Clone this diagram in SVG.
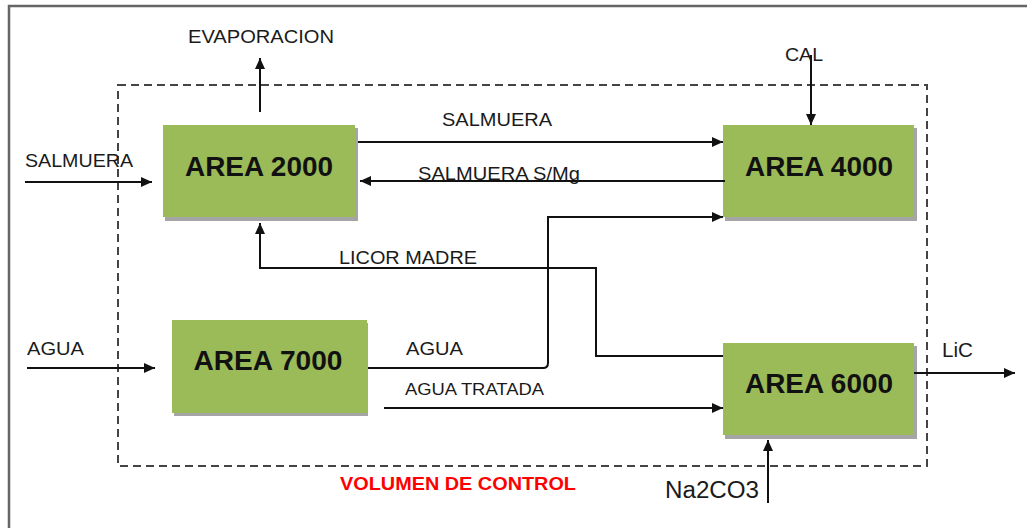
<svg xmlns="http://www.w3.org/2000/svg" width="1027" height="528" viewBox="0 0 1027 528">
<style>
.lbl{font-family:"Liberation Sans",Arial,sans-serif;font-size:19px;fill:#1a1a1a}
.ttl{font-family:"Liberation Sans",Arial,sans-serif;font-size:27px;font-weight:bold;fill:#111;text-anchor:middle}
.box{fill:#9BBB59}
.shd{fill:#a5a5a5}
.ln{fill:none;stroke:#111;stroke-width:2}
.arr{fill:none;stroke:#111;stroke-width:2;marker-end:url(#ah)}
</style>
<defs>
<marker id="ah" markerUnits="userSpaceOnUse" markerWidth="12" markerHeight="10" refX="11" refY="5" orient="auto">
<path d="M0,0 L11,5 L0,10 z" fill="#111"/>
</marker>
</defs>
<rect width="1027" height="528" fill="#fff"/>
<g id="frame">
<path d="M9,528 V6 H1027" fill="none" stroke="#666" stroke-width="2.5"/>
</g>
<g id="control-volume">
<rect x="118" y="85" width="809" height="381" fill="none" stroke="#444" stroke-width="2" stroke-dasharray="8,5"/>
<text x="340" y="490" class="lbl" style="fill:#ff0000;font-weight:bold" textLength="236" lengthAdjust="spacingAndGlyphs">VOLUMEN DE CONTROL</text>
</g>
<g id="area2000">
<rect class="shd" x="165" y="128" width="193" height="93"/>
<rect class="box" x="163" y="125" width="192" height="92"/>
<text x="259" y="176" class="ttl" textLength="148" lengthAdjust="spacingAndGlyphs">AREA 2000</text>
</g>
<g id="area4000">
<rect class="shd" x="725" y="128" width="192" height="93"/>
<rect class="box" x="723" y="125" width="191" height="92"/>
<text x="819" y="176" class="ttl" textLength="148" lengthAdjust="spacingAndGlyphs">AREA 4000</text>
</g>
<g id="area7000">
<rect class="shd" x="174" y="323" width="194" height="93"/>
<rect class="box" x="172" y="320" width="195" height="93"/>
<text x="268" y="370" class="ttl" textLength="149" lengthAdjust="spacingAndGlyphs">AREA 7000</text>
</g>
<g id="area6000">
<rect class="shd" x="725" y="346" width="192" height="93"/>
<rect class="box" x="723" y="343" width="191" height="92"/>
<text x="819" y="393" class="ttl" textLength="148" lengthAdjust="spacingAndGlyphs">AREA 6000</text>
</g>
<g id="connectors">
<path class="arr" d="M260,112 V58"/>
<path class="arr" d="M25,182 H152"/>
<path class="arr" d="M358,142 H723"/>
<path class="arr" d="M725,181 H360"/>
<path class="arr" d="M811,55 V125"/>
<path class="arr" d="M368,368 H543 Q548,368 548,363 V217 H723"/>
<path class="arr" d="M723,356 H596 V268 H260 V223"/>
<path class="arr" d="M384,408 H723"/>
<path class="arr" d="M27,368 H155"/>
<path class="arr" d="M914,373 H1015"/>
<path class="arr" d="M768,503 V440"/>
</g>
<g id="labels">
<text x="188" y="43" class="lbl" textLength="146" lengthAdjust="spacingAndGlyphs">EVAPORACION</text>
<text x="25" y="167" class="lbl" textLength="108" lengthAdjust="spacingAndGlyphs">SALMUERA</text>
<text x="442" y="126" class="lbl" textLength="110" lengthAdjust="spacingAndGlyphs">SALMUERA</text>
<text x="418" y="180" class="lbl" textLength="162" lengthAdjust="spacingAndGlyphs">SALMUERA S/Mg</text>
<text x="785" y="61" class="lbl" textLength="38" lengthAdjust="spacingAndGlyphs">CAL</text>
<text x="339" y="264" class="lbl" textLength="138" lengthAdjust="spacingAndGlyphs">LICOR MADRE</text>
<text x="27" y="355" class="lbl" textLength="57" lengthAdjust="spacingAndGlyphs">AGUA</text>
<text x="406" y="355" class="lbl" textLength="57" lengthAdjust="spacingAndGlyphs">AGUA</text>
<text x="405" y="395" class="lbl" style="font-size:16.5px" textLength="139" lengthAdjust="spacingAndGlyphs">AGUA TRATADA</text>
<text x="942" y="357" class="lbl" style="font-size:21px" textLength="31" lengthAdjust="spacingAndGlyphs">LiC</text>
<text x="665" y="498" class="lbl" style="font-size:23px" textLength="94" lengthAdjust="spacingAndGlyphs">Na2CO3</text>
</g>
</svg>
